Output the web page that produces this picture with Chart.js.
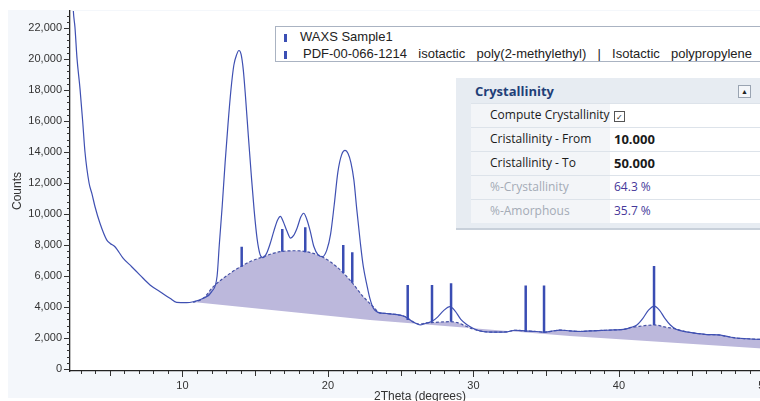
<!DOCTYPE html>
<html>
<head>
<meta charset="utf-8">
<script src="https://cdn.jsdelivr.net/npm/chart.js@4.4.1/dist/chart.umd.min.js"></script>
<style>
  html, body { margin: 0; padding: 0; background: #fff; overflow: hidden; width: 760px; height: 401px; }
  #panel { position: absolute; left: 8px; top: 10px; width: 800px; height: 388px; background: #f4f7fb; }
  #wrap { position: absolute; left: 0; top: 0; width: 790px; height: 410px; }
  #legend { position: absolute; left: 275px; top: 26px; width: 520px; height: 34px; background: #fff;
            border: 1px solid #aab3c2; font: 13px "Liberation Sans", Arial, sans-serif; color: #222; }
  #legend div { position: absolute; left: 0; white-space: pre; line-height: 15px; }
  #legend .mk { position: absolute; left: 8px; width: 2.5px; height: 8px; background: #3b4fb4; }
  #cryst { position: absolute; left: 456px; top: 78px; width: 320px; height: 150px; background: #e7ecf2;
           border-bottom: 2px solid #c8d0da; font: 12px "Open Sans", sans-serif; color: #1a1a1a; }
  #cryst .head { position: absolute; left: 19px; top: 4px; font-weight: bold; font-size: 13px; color: #1f3f78; }
  #cryst .btn { position: absolute; left: 282px; top: 7px; width: 11px; height: 11px; border: 1px solid #9aa4b2;
                background: #f4f6f9; font-size: 7px; line-height: 11px; text-align: center; color: #222; }
  #cryst .row { position: absolute; left: 15px; width: 305px; height: 23px; border-top: 1px solid #dde3ea; }
  #cryst .lab { position: absolute; left: 0; top: 0; width: 139px; height: 23px; background: #f3f5f8; overflow: hidden;
                white-space: nowrap; padding-left: 19px; box-sizing: border-box; line-height: 22px; }
  #cryst .val { position: absolute; left: 139px; top: 0; width: 166px; height: 23px; background: #fff;
                padding-left: 4px; box-sizing: border-box; line-height: 22px; }
  #cryst .dim { color: #a4abb6; }
  #cryst .num { color: #46389a; }
  #cryst b { font-weight: bold; font-size: 13px; }
  .chk { display: inline-block; width: 9px; height: 9px; border: 1px solid #555; font-size: 8px; line-height: 9px;
         text-align: center; vertical-align: -1px; }
</style>
</head>
<body>
<div id="panel"></div>
<div id="wrap"><canvas id="chart"></canvas></div>
<div id="legend">
  <span class="mk" style="top:7px"></span><div style="left:24px;top:2px">WAXS Sample1</div>
  <span class="mk" style="top:24px"></span><div style="left:27px;top:19px;word-spacing:2px">PDF-00-066-1214  isotactic  poly(2-methylethyl)  |  Isotactic  polypropylene</div>
</div>
<div id="cryst">
  <div class="head">Crystallinity</div>
  <div class="btn">&#9650;</div>
  <div class="row" style="top:25px"><div class="lab">Compute Crystallinity</div><div class="val"><span class="chk">&#10003;</span></div></div>
  <div class="row" style="top:49px"><div class="lab">Cristallinity - From</div><div class="val"><b>10.000</b></div></div>
  <div class="row" style="top:73px"><div class="lab">Cristallinity - To</div><div class="val"><b>50.000</b></div></div>
  <div class="row" style="top:97px"><div class="lab dim">%-Crystallinity</div><div class="val num">64.3 %</div></div>
  <div class="row" style="top:121px"><div class="lab dim">%-Amorphous</div><div class="val num">35.7 %</div></div>
</div>
<script>
// measured scan (2theta, counts)
const scanX = [2.40, 2.50, 2.61, 2.75, 2.96, 3.14, 3.30, 3.58, 3.78, 3.99, 4.33, 4.79, 5.03, 5.36, 5.93, 6.51, 7.08, 7.77, 8.46, 9.14,
  9.60, 10.29, 10.74, 11.43, 12.01, 12.38, 12.53, 12.73, 12.93, 13.13, 13.33, 13.53, 13.73, 13.88, 14.03, 14.18, 14.33, 14.53, 14.73, 14.93,
  15.13, 15.33, 15.53, 15.78, 16.03, 16.28, 16.53, 16.73, 16.93, 17.18, 17.43, 17.63, 17.88, 18.13, 18.33, 18.53, 18.78, 19.03, 19.33, 19.63,
  19.93, 20.18, 20.43, 20.68, 20.93, 21.18, 21.38, 21.58, 21.78, 21.98, 22.23, 22.43, 22.68, 22.88, 23.13, 23.43, 24.03, 24.63, 25.23, 25.48,
  25.93, 26.33, 26.73, 27.13, 27.53, 27.93, 28.38, 28.73, 29.13, 29.53, 30.03, 30.63, 31.33, 32.33, 32.83, 33.33, 33.83, 34.33, 34.83, 35.33,
  35.93, 36.63, 37.33, 38.03, 38.83, 39.63, 40.33, 40.83, 41.23, 41.63, 42.03, 42.43, 42.78, 43.13, 43.53, 43.93, 44.63, 45.33, 46.03, 46.83,
  47.43, 48.03, 48.83, 49.73, 50.50];
const scanY = [25500, 23100, 22060, 20060, 18060, 16000, 14000, 12000, 11300, 10470, 9400, 8330, 8100, 7890, 7140, 6600, 6060, 5420, 4990, 4560,
  4300, 4280, 4340, 4560, 4990, 6000, 8000, 10500, 13300, 15800, 18000, 19600, 20300, 20550, 20300, 19300, 17600, 15000, 12500, 10200,
  8400, 7400, 7180, 7460, 8100, 8900, 9600, 9850, 9500, 8900, 8450, 8600, 9100, 9800, 10050, 9700, 8900, 7900, 7350, 7250,
  7700, 8700, 10600, 12700, 13800, 14100, 13900, 13300, 12200, 10300, 8100, 6600, 5400, 4560, 3900, 3650, 3580, 3520, 3400, 3270,
  3000, 2840, 2950, 3060, 3350, 3750, 4020, 3750, 3200, 2870, 2600, 2420, 2380, 2400, 2500, 2480, 2440, 2420, 2380, 2430,
  2510, 2460, 2420, 2460, 2490, 2520, 2560, 2680, 2840, 3250, 3800, 4060, 3800, 3300, 2840, 2560, 2400, 2300, 2220, 2200,
  2100, 2000, 1950, 1910, 1900];

// amorphous halo (dashed, filled down to the background line)
const amorphX = [10.74, 11.43, 12.12, 13.27, 14.41, 15.56, 16.70, 17.85, 18.99, 19.68, 20.60, 21.51, 22.43, 23.11, 23.58, 24.03, 24.63, 25.23,
  25.48, 25.93, 26.33, 26.73, 27.13, 27.70, 28.39, 28.90, 29.40, 29.90, 30.63, 31.33, 32.33, 32.83, 33.33, 33.83, 34.33, 34.83, 35.33, 35.93,
  36.63, 37.33, 38.03, 38.83, 39.63, 40.33, 40.83, 41.23, 41.70, 42.43, 43.20, 43.73, 44.20, 44.63, 45.33, 46.03, 46.83, 47.43, 48.03, 48.83,
  49.73, 50.50];
const amorphY = [4300, 4560, 5310, 6170, 6820, 7250, 7570, 7630, 7460, 7200, 6600, 5740, 4660, 4020, 3610, 3580, 3520, 3400,
  3270, 3000, 2900, 2970, 2990, 3030, 3050, 2990, 2800, 2600, 2420, 2380, 2400, 2500, 2480, 2440, 2420, 2380, 2430, 2510,
  2460, 2420, 2460, 2490, 2520, 2560, 2680, 2730, 2790, 2840, 2700, 2620, 2500, 2400, 2300, 2220, 2200, 2100, 2000, 1950,
  1910, 1900];

// background line under the halo
const baseX = [10.72, 22.89, 36.63, 50.50];
const baseY = [4320, 3160, 2130, 1280];

// PDF-00-066-1214 reference sticks
const stickX = [14.07, 16.86, 18.44, 21.05, 21.67, 25.48, 27.15, 28.46, 33.59, 34.85, 42.41];
const stickLow = [6600, 7570, 7530, 6170, 5570, 3160, 3050, 3050, 2410, 2340, 2840];
const stickHigh = [7890, 9030, 9140, 8000, 7530, 5420, 5420, 5530, 5380, 5380, 6650];

// axis ticks
const yLabelStep = 2000, yMinorStep = 400, yLastTick = 22800;
const xLabelStep = 10, xMidStep = 5;

const toPoints = (xs, ys) => xs.map((x, i) => ({ x: x, y: ys[i] }));
const sticks = [];
stickX.forEach((x, i) => {
  sticks.push({ x: x, y: stickLow[i] }, { x: x, y: stickHigh[i] }, { x: x, y: null });
});

const axisFont = { family: '"Liberation Sans", Arial, sans-serif', size: 11 };

// white plot area + hand drawn tick marks (long on labelled values)
const plotBits = {
  id: 'plotBits',
  beforeDraw(chart) {
    const a = chart.chartArea, ctx = chart.ctx;
    ctx.save();
    ctx.fillStyle = '#fff';
    ctx.fillRect(a.left, a.top, a.right - a.left, a.bottom - a.top);
    ctx.restore();
  },
  afterDraw(chart) {
    const ctx = chart.ctx, xs = chart.scales.x, ys = chart.scales.y;
    ctx.save();
    ctx.strokeStyle = '#333';
    ctx.lineWidth = 1;
    ctx.beginPath();
    xs.ticks.forEach(t => {
      const p = Math.round(xs.getPixelForValue(t.value)) + 0.5;
      const len = t.value % xLabelStep === 0 ? 6 : (t.value % xMidStep === 0 ? 5 : 3);
      ctx.moveTo(p, xs.top); ctx.lineTo(p, xs.top + len);
    });
    ys.ticks.forEach(t => {
      const p = Math.round(ys.getPixelForValue(t.value)) + 0.5;
      const len = t.value % yLabelStep === 0 ? 6 : 3;
      ctx.moveTo(ys.right, p); ctx.lineTo(ys.right - len, p);
    });
    ctx.stroke();
    ctx.restore();
  }
};

new Chart(document.getElementById('chart'), {
  type: 'line',
  data: {
    datasets: [
      {
        label: 'background',
        data: toPoints(baseX, baseY),
        borderWidth: 0,
        pointRadius: 0,
        fill: false,
        order: 4
      },
      {
        label: 'amorphous',
        data: toPoints(amorphX, amorphY),
        borderColor: '#4652a6',
        borderWidth: 1.2,
        borderDash: [3, 2],
        backgroundColor: '#bcb8dc',
        pointRadius: 0,
        cubicInterpolationMode: 'monotone',
        fill: { target: 0 },
        order: 3
      },
      {
        label: 'WAXS Sample1',
        data: toPoints(scanX, scanY),
        borderColor: '#3f50b2',
        borderWidth: 1.2,
        pointRadius: 0,
        cubicInterpolationMode: 'monotone',
        fill: false,
        order: 2
      },
      {
        label: 'PDF-00-066-1214',
        data: sticks,
        borderColor: '#3a4db3',
        borderWidth: 2.5,
        borderCapStyle: 'butt',
        pointRadius: 0,
        spanGaps: false,
        fill: false,
        order: 1
      }
    ]
  },
  options: {
    responsive: true,
    maintainAspectRatio: false,
    animation: false,
    layout: { padding: { left: 8, top: 11, right: 20, bottom: 0 } },
    plugins: { legend: { display: false }, tooltip: { enabled: false } },
    scales: {
      x: {
        type: 'linear',
        min: 2.27,
        max: 50.38,
        afterFit(scale) { scale.height = 39; },
        border: { display: true, color: '#222', width: 1.3 },
        grid: { display: false, drawTicks: true, tickLength: 6 },
        ticks: {
          stepSize: 1,
          includeBounds: false,
          autoSkip: false,
          maxRotation: 0,
          padding: 2,
          color: '#333',
          font: axisFont,
          callback: v => (v % xLabelStep === 0 ? String(v) : '')
        },
        title: {
          display: true,
          text: '2Theta (degrees)',
          color: '#333',
          font: { family: '"Liberation Sans", Arial, sans-serif', size: 12 },
          padding: { top: 0, bottom: 6 }
        }
      },
      y: {
        type: 'linear',
        min: -130,
        max: 23100,
        afterFit(scale) { scale.width = 62; },
        afterBuildTicks(scale) {
          const t = [];
          for (let v = 0; v <= yLastTick; v += yMinorStep) t.push({ value: v });
          scale.ticks = t;
        },
        border: { display: true, color: '#222', width: 1.3 },
        grid: { display: false, drawTicks: true, tickLength: 6 },
        ticks: {
          autoSkip: false,
          padding: 2,
          color: '#333',
          font: axisFont,
          callback: v => (v % yLabelStep === 0 ? v.toLocaleString('en-US') : '')
        },
        title: {
          display: true,
          text: 'Counts',
          color: '#333',
          font: { family: '"Liberation Sans", Arial, sans-serif', size: 12 },
          padding: { top: 2, bottom: 0 }
        }
      }
    }
  },
  plugins: [plotBits]
});
</script>
</body>
</html>
